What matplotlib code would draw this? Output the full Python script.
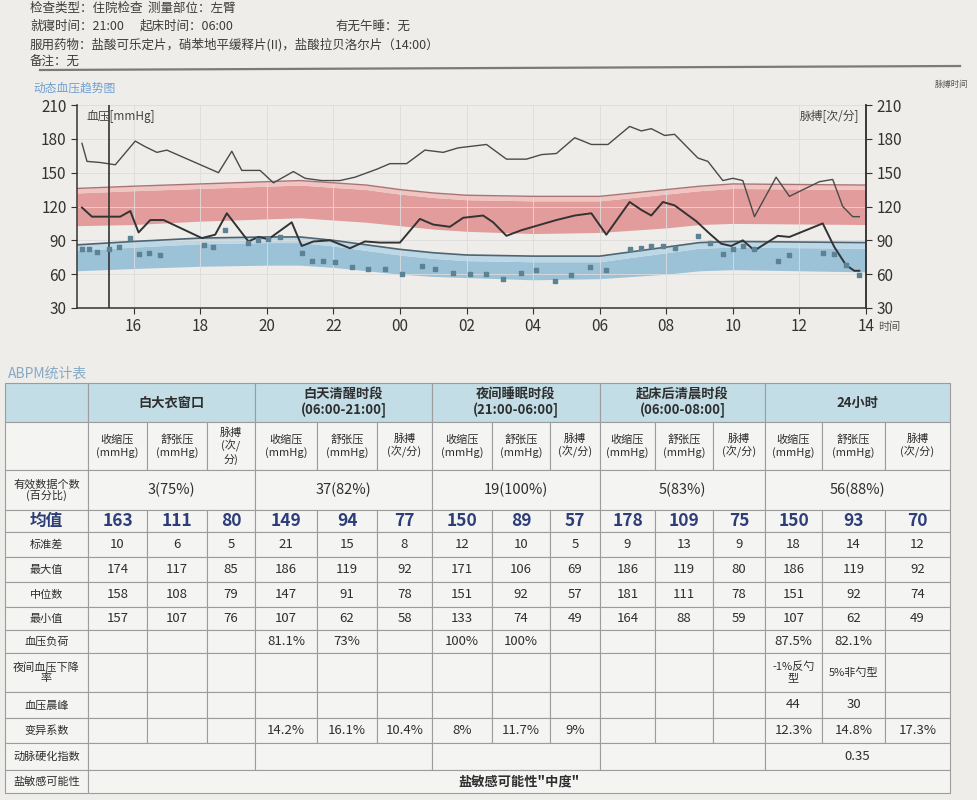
import matplotlib.pyplot as plt
from matplotlib.patches import Rectangle

plt.rcParams['font.family'] = ['Noto Sans CJK SC', 'DejaVu Sans']

# ---- trend chart data (time in hours, 24 = 00:00 next day) ----
sys_time = [14.45, 14.6, 15.0, 15.45, 16.05, 16.35, 16.7, 17.0, 18.55, 18.95, 19.25, 19.8,
            20.2, 20.8, 21.15, 21.65, 22.2, 22.65, 23.3, 23.7, 24.2, 24.75, 25.3, 25.75,
            26.6, 27.2, 27.8, 28.25, 28.7, 29.25, 29.75, 30.25, 30.9, 31.25, 31.55, 31.95,
            32.25, 32.95, 33.25, 33.7, 34.0, 34.3, 34.65, 35.3, 35.7, 36.6, 37.0, 37.3,
            37.6, 37.8]
sys_vals = [176, 160, 159, 157, 178, 173, 168, 170, 150, 169, 152, 152,
            141, 151, 145, 143, 143, 146, 153, 158, 158, 170, 168, 172,
            175, 162, 162, 166, 167, 181, 175, 175, 191, 187, 189, 183,
            184, 163, 160, 143, 145, 143, 111, 146, 129, 142, 144, 120,
            111, 111]

dia_time = [14.45, 14.75, 15.45, 15.6, 15.9, 16.15, 16.5, 16.9, 18.05, 18.45, 18.8, 19.45,
            19.75, 20.05, 20.75, 21.05, 21.4, 21.9, 22.5, 22.95, 23.4, 24.0, 24.6, 25.0,
            25.5, 25.9, 26.5, 26.8, 27.2, 27.65, 28.7, 29.25, 29.75, 30.2, 30.9, 31.25,
            31.55, 31.9, 32.25, 32.9, 33.3, 33.65, 33.95, 34.3, 34.65, 35.35, 35.7, 36.7,
            37.05, 37.4, 37.65, 37.8]
dia_vals = [119, 111, 111, 111, 116, 97, 108, 108, 92, 95, 114, 89,
            93, 91, 106, 85, 89, 90, 83, 89, 88, 88, 109, 104,
            102, 110, 112, 106, 94, 99, 108, 112, 114, 95, 124, 117,
            112, 124, 121, 107, 96, 87, 85, 90, 81, 94, 93, 105,
            84, 68, 63, 63]

pulse_time = [14.45, 14.65, 14.9, 15.25, 15.55, 15.9, 16.15, 16.45, 16.8, 18.1, 18.4, 18.75,
              19.45, 19.75, 20.05, 20.4, 21.05, 21.35, 21.7, 22.05, 22.55, 23.05, 23.55, 24.05,
              24.65, 25.05, 25.6, 26.1, 26.6, 27.1, 27.65, 28.1, 28.65, 29.15, 29.7, 30.2,
              30.9, 31.25, 31.55, 31.9, 32.25, 32.95, 33.3, 33.7, 34.0, 34.3, 34.65, 35.35,
              35.7, 36.7, 37.05, 37.4, 37.8]
pulse_vals = [82, 82, 80, 82, 84, 92, 78, 79, 77, 86, 84, 99,
              88, 90, 91, 93, 79, 72, 72, 71, 66, 65, 65, 60,
              67, 65, 61, 60, 60, 56, 61, 64, 54, 59, 66, 64,
              82, 83, 85, 85, 83, 94, 88, 78, 82, 85, 82, 72,
              77, 79, 78, 68, 59]

band_time = [14.3, 16, 18, 20, 21, 22, 23, 24, 25, 26, 28, 30, 31, 32, 33, 34, 38]
sys_limit = [136, 138, 140, 142, 143, 141, 139, 135, 132, 130, 129, 129, 132, 135, 138, 140, 139]
sys_light = [132, 134, 136, 138, 139, 137, 135, 131, 128, 126, 125, 125, 128, 131, 134, 136, 135]
sys_low = [103, 104, 107, 109, 110, 108, 106, 103, 100, 98, 96, 97, 99, 101, 104, 105, 104]
dia_limit = [86, 89, 92, 93, 93, 90, 86, 82, 79, 77, 76, 76, 80, 84, 88, 89, 88]
dia_light = [81, 84, 87, 88, 88, 85, 81, 77, 74, 72, 71, 71, 75, 79, 83, 84, 83]
dia_low = [63, 65, 67, 68, 68, 66, 63, 60, 58, 57, 55, 56, 58, 60, 63, 64, 62]

hour_ticks = [16, 18, 20, 22, 24, 26, 28, 30, 32, 34, 36, 38]
hour_labels = ['16', '18', '20', '22', '00', '02', '04', '06', '08', '10', '12', '14']
bp_ticks = [30, 60, 90, 120, 150, 180, 210]

# ---- statistics table ----
groups = ['白大衣窗口', '白天清醒时段\n(06:00-21:00]', '夜间睡眠时段\n(21:00-06:00]',
          '起床后清晨时段\n(06:00-08:00]', '24小时']
sub_heads = ['收缩压\n(mmHg)', '舒张压\n(mmHg)', '脉搏\n(次/分)']
row_labels = ['有效数据个数\n(百分比)', '均值', '标准差', '最大值', '中位数', '最小值', '血压负荷',
              '夜间血压下降\n率', '血压晨峰', '变异系数', '动脉硬化指数', '盐敏感可能性']
valid_counts = ['3(75%)', '37(82%)', '19(100%)', '5(83%)', '56(88%)']
mean_row = ['163', '111', '80', '149', '94', '77', '150', '89', '57', '178', '109', '75', '150', '93', '70']
sd_row = ['10', '6', '5', '21', '15', '8', '12', '10', '5', '9', '13', '9', '18', '14', '12']
max_row = ['174', '117', '85', '186', '119', '92', '171', '106', '69', '186', '119', '80', '186', '119', '92']
median_row = ['158', '108', '79', '147', '91', '78', '151', '92', '57', '181', '111', '78', '151', '92', '74']
min_row = ['157', '107', '76', '107', '62', '58', '133', '74', '49', '164', '88', '59', '107', '62', '49']
load_row = ['', '', '', '81.1%', '73%', '', '100%', '100%', '', '', '', '', '87.5%', '82.1%', '']
dip_row = [''] * 12 + ['-1%反勺\n型', '5%非勺型', '']
surge_row = [''] * 12 + ['44', '30', '']
cv_row = ['', '', '', '14.2%', '16.1%', '10.4%', '8%', '11.7%', '9%', '', '', '', '12.3%', '14.8%', '17.3%']
stiffness = ['', '', '', '', '0.35']
salt_text = '盐敏感可能性"中度"'

W, H = 977, 800
fig = plt.figure(figsize=(W / 100, H / 100), dpi=100)
fig.patch.set_facecolor('#eeedea')

# page overlay in pixel coordinates
page = fig.add_axes([0, 0, 1, 1])
page.set_xlim(0, W)
page.set_ylim(H, 0)
page.axis('off')

txt = dict(fontsize=9, color='#3c3c3c', va='center')
page.text(30, 8, '检查类型：住院检查  测量部位：左臂', **txt)
page.text(30, 26, '就寝时间：21:00', **txt)
page.text(140, 26, '起床时间：06:00', **txt)
page.text(335, 26, '有无午睡：无', **txt)
page.text(30, 45, '服用药物：盐酸可乐定片，硝苯地平缓释片(II)，盐酸拉贝洛尔片（14:00）', **txt)
page.text(30, 62, '备注：无', **txt)
page.plot([40, 960], [70, 66], color='#7a7a7a', lw=1.6)
page.text(33, 88, '动态血压趋势图', fontsize=8.5, color='#6f9fcf', va='center')
page.text(935, 84, '脉搏时间', fontsize=6, color='#555555', va='center')
page.text(878, 327, '时间', fontsize=8, color='#555555', va='center')
page.text(8, 374, 'ABPM统计表', fontsize=10, color='#86a9c6', va='center')

# ---- trend chart ----
ax = fig.add_axes([77 / W, 1 - 308 / H, (866 - 77) / W, (308 - 105) / H])
ax.set_facecolor('none')
ax.fill_between(band_time, sys_low, sys_light, color='#e39c9c', lw=0)
ax.fill_between(band_time, sys_light, sys_limit, color='#f0c4c0', lw=0)
ax.plot(band_time, sys_limit, color='#a87474', lw=1.0)
ax.fill_between(band_time, dia_low, dia_light, color='#9cc2d8', lw=0)
ax.fill_between(band_time, dia_light, dia_limit, color='#bcd7e6', lw=0)
ax.plot(band_time, dia_limit, color='#4e6470', lw=1.2)

ax.plot(sys_time, sys_vals, color='#4a4a4a', lw=1.0)
ax.plot(dia_time, dia_vals, color='#333333', lw=1.4)
ax.scatter(pulse_time, pulse_vals, marker='s', s=9, color='#5d8294', zorder=3)
ax.axvline(15.25, color='#333333', lw=1.2)

ax.set_xlim(14.3, 38)
ax.set_ylim(30, 210)
ax.set_xticks(hour_ticks)
ax.set_xticklabels(hour_labels)
ax.set_yticks(bp_ticks)
ax.grid(True, color='#dcdcdc', lw=0.6)
ax.spines['top'].set_visible(False)
for side in ['left', 'right', 'bottom']:
    ax.spines[side].set_color('#333333')
    ax.spines[side].set_linewidth(1.1)
ax.tick_params(axis='both', labelsize=11, colors='#333333', length=4, direction='out')
ax.text(14.6, 206, '血压[mmHg]', fontsize=8.5, color='#444444', va='top')
ax.text(37.8, 206, '脉搏[次/分]', fontsize=8.5, color='#444444', va='top', ha='right')

ax2 = ax.twinx()
ax2.set_ylim(30, 210)
ax2.set_yticks(bp_ticks)
ax2.tick_params(axis='y', labelsize=11, colors='#333333', length=4)
for side in ['top', 'left', 'bottom']:
    ax2.spines[side].set_visible(False)
ax2.spines['right'].set_color('#333333')
ax2.spines['right'].set_linewidth(1.1)

# ---- statistics table ----
col_x = [5, 88, 147, 207, 255, 317, 377, 432, 492, 550, 600, 655, 713, 765, 822, 885, 950]
row_y = [383, 422, 470, 510, 532, 557, 582, 607, 630, 653, 692, 718, 743, 770, 793]
grid_c = '#9c9c9c'


def cell(x0, x1, y0, y1, text='', face='#f4f4f2', **kw):
    page.add_patch(Rectangle((x0, y0), x1 - x0, y1 - y0, facecolor=face,
                             edgecolor=grid_c, lw=0.8))
    if text:
        style = dict(fontsize=9.5, color='#2e2e2e', ha='center', va='center')
        style.update(kw)
        page.text((x0 + x1) / 2, (y0 + y1) / 2, text, **style)


# header rows
cell(col_x[0], col_x[1], row_y[0], row_y[1], face='#c3dde6')
cell(col_x[0], col_x[1], row_y[1], row_y[2])
for g, name in enumerate(groups):
    gx0, gx1 = col_x[1 + 3 * g], col_x[4 + 3 * g]
    cell(gx0, gx1, row_y[0], row_y[1], name, face='#c3dde6', fontsize=9.5,
         fontweight='bold', linespacing=1.1)
    for k, sh in enumerate(sub_heads):
        label = '脉搏\n(次/\n分)' if (g == 0 and k == 2) else sh
        cell(col_x[1 + 3 * g + k], col_x[2 + 3 * g + k], row_y[1], row_y[2], label,
             fontsize=8, linespacing=1.2, fontweight='medium')

# body rows
body = [None, mean_row, sd_row, max_row, median_row, min_row, load_row, dip_row,
        surge_row, cv_row]
for r, label in enumerate(row_labels):
    y0, y1 = row_y[r + 2], row_y[r + 3]
    if r == 1:
        cell(col_x[0], col_x[1], y0, y1, label, fontsize=12, fontweight='bold',
             fontstyle='italic', color='#2c3d78')
    else:
        cell(col_x[0], col_x[1], y0, y1, label, fontsize=8, linespacing=1.1)
    if r == 0:
        for g, v in enumerate(valid_counts):
            cell(col_x[1 + 3 * g], col_x[4 + 3 * g], y0, y1, v, fontsize=10.5)
    elif r == 10:
        for g, v in enumerate(stiffness):
            cell(col_x[1 + 3 * g], col_x[4 + 3 * g], y0, y1, v, fontsize=9.5)
    elif r == 11:
        cell(col_x[1], col_x[-1], y0, y1, salt_text, fontsize=9.5, fontweight='bold')
    else:
        vals = body[r]
        for c, v in enumerate(vals):
            if r == 1:
                cell(col_x[c + 1], col_x[c + 2], y0, y1, v, fontsize=12.5,
                     fontweight='bold', fontstyle='italic', color='#2c3d78')
            else:
                fs = 8 if '\n' in v or '型' in v else 9.5
                cell(col_x[c + 1], col_x[c + 2], y0, y1, v, fontsize=fs, linespacing=1.1)

fig.savefig('out.png', dpi=100, facecolor=fig.get_facecolor())
